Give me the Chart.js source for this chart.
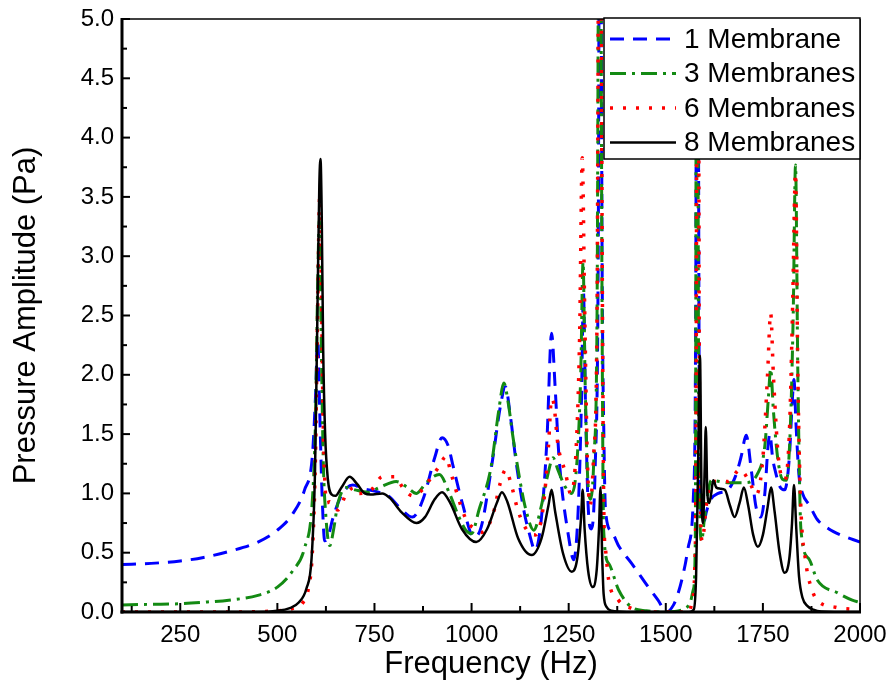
<!DOCTYPE html>
<html>
<head>
<meta charset="utf-8">
<script src="https://cdn.jsdelivr.net/npm/chart.js@4.4.1/dist/chart.umd.min.js"></script>
<style>
  html, body { margin: 0; padding: 0; background: #fff; }
  #wrap { width: 890px; height: 698px; position: relative; }
</style>
</head>
<body>
<div id="wrap"><canvas id="cv"></canvas></div>
<script>
// ── data (Hz / Pa). 8 = peak running off the top of the plot
const freq1 = [100,175,250,310,375,450,500,540,570,590,598,604,609,615,622,632,642,660,680,694,720,750,770,789,815,848,875,905,924,940,951,976,1006,1025,1053,1075,1087,1100,1114,1135,1148,1164,1180,1194,1206,1215,1225,1250,1263,1275,1283,1288,1293,1300,1308,1318,1326,1331,1336,1341,1345,1360,1380,1412,1455,1480,1502,1520,1532,1550,1558,1571,1577,1581,1586,1592,1597,1605,1614,1635,1660,1680,1694,1707,1720,1732,1745,1755,1763,1768,1775,1781,1795,1806,1818,1826,1830,1835,1843,1852,1870,1890,1920,1950,2000];
const amp1  = [0.40,0.41,0.43,0.46,0.51,0.59,0.69,0.83,1.03,1.31,1.8,2.3,1.7,1.0,0.6,0.65,0.78,0.95,1.05,1.07,1.04,1.02,1.0,0.97,0.88,0.8,0.95,1.3,1.47,1.4,1.25,0.92,0.63,0.72,1.26,1.75,1.9,1.65,1.28,0.85,0.67,0.52,0.8,1.45,2.35,1.9,1.31,0.63,0.44,0.9,1.8,2.7,1.8,0.9,0.7,1.2,3.0,8,3.0,1.4,0.85,0.68,0.55,0.41,0.21,0.1,0.0,0.06,0.16,0.4,0.55,0.97,2.5,8,2.0,0.8,0.75,0.85,0.94,1.0,1.03,1.15,1.31,1.49,1.2,0.89,0.8,1.0,1.39,1.5,1.3,1.2,1.05,1.03,1.3,1.8,1.96,1.6,1.15,1.0,0.9,0.78,0.7,0.65,0.59];

const freq3 = [100,175,250,320,375,450,500,540,570,590,598,604,608,612,618,625,635,645,656,678,700,733,763,806,835,858,883,917,943,965,985,1000,1019,1050,1070,1083,1095,1105,1125,1140,1160,1180,1195,1210,1222,1242,1258,1272,1281,1287,1292,1298,1306,1315,1323,1330,1336,1340,1353,1378,1412,1450,1500,1550,1563,1571,1576,1580,1585,1592,1600,1617,1660,1703,1737,1755,1764,1770,1777,1788,1800,1810,1820,1828,1834,1840,1848,1868,1890,1943,1980,2000];
const amp3  = [0.06,0.065,0.07,0.085,0.1,0.14,0.21,0.35,0.54,0.94,1.6,2.8,3.3,2.5,1.3,0.8,0.56,0.7,0.92,1.05,1.03,1.01,1.05,1.1,1.05,1.0,1.09,1.16,1.0,0.82,0.69,0.66,0.86,1.22,1.7,1.93,1.75,1.51,1.1,0.86,0.69,0.9,1.14,1.3,1.2,1.05,1.0,1.3,2.0,2.95,2.0,1.2,0.95,1.3,2.5,8,2.5,0.69,0.41,0.19,0.04,0.01,0,0.03,0.08,0.19,0.6,8,1.5,0.6,0.8,1.11,1.09,1.09,1.17,1.4,1.8,2.05,1.7,1.3,1.12,1.11,1.5,2.5,3.77,2.0,0.69,0.45,0.27,0.16,0.1,0.08];

const freq6 = [100,400,470,500,540,566,580,590,598,604,609,613,618,623,628,635,645,656,678,700,711,742,770,801,827,848,870,891,915,934,947,973,989,1010,1024,1053,1075,1088,1100,1120,1145,1165,1185,1198,1206,1212,1222,1242,1255,1268,1278,1285,1291,1298,1305,1314,1323,1330,1337,1341,1345,1353,1378,1412,1450,1560,1568,1575,1578,1582,1587,1594,1604,1620,1660,1691,1715,1733,1750,1762,1770,1777,1790,1806,1818,1826,1834,1840,1847,1861,1875,1890,1937,2000];
const amp6  = [0,0,0.005,0.01,0.03,0.08,0.2,0.5,1.3,2.6,3.5,2.8,1.6,1.05,0.92,0.93,0.88,0.86,1.0,1.05,1.0,1.03,1.14,1.14,1.03,0.98,1.02,1.11,1.22,1.31,1.17,0.89,0.76,0.7,0.67,0.8,1.1,1.2,1.1,0.85,0.68,0.65,0.9,1.4,1.8,1.75,1.42,1.17,1.0,1.3,2.3,3.83,2.6,1.3,0.9,1.3,2.5,8,2.5,0.75,0.52,0.27,0.1,0.03,0,0,0.1,0.4,1.5,8,1.5,0.6,0.89,1.1,1.1,1.2,1.1,0.99,1.3,2.0,2.52,2.0,1.3,1.11,1.5,2.5,3.7,2.0,0.95,0.41,0.2,0.1,0.04,0.02];

const freq8 = [100,300,450,500,530,555,575,588,597,603,608,611,614,618,623,630,640,650,665,686,705,725,740,770,790,820,858,880,905,924,945,975,1012,1040,1065,1078,1092,1120,1155,1180,1198,1206,1215,1235,1258,1272,1282,1286,1291,1300,1312,1322,1328,1332,1336,1340,1348,1360,1400,1560,1572,1578,1583,1588,1592,1596,1600,1603,1607,1612,1617,1622,1630,1640,1652,1665,1677,1690,1701,1712,1725,1737,1750,1762,1771,1780,1793,1806,1818,1825,1830,1836,1843,1852,1865,1880,1900,2000];
const amp8  = [0,0,0,0.01,0.03,0.08,0.2,0.45,1.2,2.5,3.6,3.82,3.4,2.2,1.5,1.12,0.99,0.98,1.05,1.14,1.08,1.0,0.99,1.0,0.96,0.84,0.75,0.8,0.95,1.01,0.92,0.7,0.59,0.7,0.92,1.01,0.93,0.62,0.48,0.62,0.9,1.03,0.85,0.5,0.34,0.45,0.8,1.03,0.7,0.35,0.21,0.35,0.7,1.05,0.5,0.15,0.04,0.01,0,0,0.02,0.3,1.2,2.16,1.0,0.75,1.2,1.56,1.0,0.92,1.0,1.11,1.05,1.04,1.03,0.9,0.8,0.92,1.05,0.9,0.65,0.55,0.65,0.88,1.05,0.85,0.5,0.33,0.45,0.75,1.07,0.7,0.3,0.12,0.05,0.02,0.005,0];

const seriesNames = ['1 Membrane', '3 Membranes', '6 Membranes', '8 Membranes'];
const xMajor = [250, 500, 750, 1000, 1250, 1500, 1750, 2000];
const xMinor = [125, 375, 625, 875, 1125, 1375, 1625, 1875];
const yMajor = [0, 0.5, 1, 1.5, 2, 2.5, 3, 3.5, 4, 4.5, 5];
const yMinor = [0.25, 0.75, 1.25, 1.75, 2.25, 2.75, 3.25, 3.75, 4.25, 4.75];

const FONT = "'Liberation Sans', Arial, sans-serif";
const pts = (fx, fy) => fx.map((f, i) => ({ x: f, y: fy[i] }));

// frame + inward ticks
const framePlugin = {
  id: 'frame',
  afterDatasetsDraw(chart) {
    const { ctx, chartArea: a, scales: { x, y } } = chart;
    const seg = (x1, y1, x2, y2) => { ctx.beginPath(); ctx.moveTo(x1, y1); ctx.lineTo(x2, y2); ctx.stroke(); };
    ctx.save();
    ctx.strokeStyle = '#000';
    ctx.lineWidth = 2;
    xMajor.forEach(v => { const p = x.getPixelForValue(v); seg(p, a.bottom, p, a.bottom - 9); });
    xMinor.forEach(v => { const p = x.getPixelForValue(v); seg(p, a.bottom, p, a.bottom - 6); });
    yMajor.forEach(v => { const p = y.getPixelForValue(v); seg(a.left, p, a.left + 8, p); });
    yMinor.forEach(v => { const p = y.getPixelForValue(v); seg(a.left, p, a.left + 5, p); });
    ctx.lineWidth = 1.5;
    seg(a.left, a.top, a.right, a.top);
    seg(a.right, a.top, a.right, a.bottom);
    ctx.lineWidth = 3;
    seg(a.left, a.top - 1, a.left, a.bottom + 1.5);
    seg(a.left - 1.5, a.bottom, a.right + 1, a.bottom);
    ctx.restore();
  }
};

// boxed legend in the top-right corner
const legendPlugin = {
  id: 'boxLegend',
  afterDraw(chart) {
    const { ctx, chartArea: a } = chart;
    const w = 256, h = 141, left = a.right - w, top = a.top - 1;
    ctx.save();
    ctx.fillStyle = '#fff';
    ctx.fillRect(left, top, w, h);
    ctx.strokeStyle = '#000';
    ctx.lineWidth = 1.5;
    ctx.strokeRect(left, top, w, h);
    chart.data.datasets.forEach((ds, i) => {
      const yy = top + 21 + i * 34.5;
      ctx.strokeStyle = ds.borderColor;
      ctx.lineWidth = ds.borderWidth;
      ctx.setLineDash(ds.borderDash || []);
      ctx.beginPath(); ctx.moveTo(left + 6, yy); ctx.lineTo(left + 72, yy); ctx.stroke();
      ctx.setLineDash([]);
      ctx.fillStyle = '#000';
      ctx.font = '28px ' + FONT;
      ctx.textBaseline = 'middle';
      ctx.fillText(ds.label, left + 80, yy + 1);
    });
    ctx.restore();
  }
};

const base = { pointRadius: 0, fill: false, cubicInterpolationMode: 'monotone' };

new Chart(document.getElementById('cv'), {
  type: 'line',
  data: {
    datasets: [
      { ...base, label: seriesNames[0], data: pts(freq1, amp1), borderColor: '#0000ff', borderWidth: 3, borderDash: [14, 9], order: 3 },
      { ...base, label: seriesNames[1], data: pts(freq3, amp3), borderColor: '#138a13', borderWidth: 3, borderDash: [16, 6, 3, 6], order: 2 },
      { ...base, label: seriesNames[2], data: pts(freq6, amp6), borderColor: '#ff0000', borderWidth: 3.5, borderDash: [3, 10], order: 1 },
      { ...base, label: seriesNames[3], data: pts(freq8, amp8), borderColor: '#000000', borderWidth: 2.5, order: 0 }
    ]
  },
  options: {
    responsive: true,
    maintainAspectRatio: false,
    animation: false,
    layout: { padding: { top: 19, right: 30, bottom: 0, left: 0 } },
    plugins: { legend: { display: false }, tooltip: { enabled: false } },
    scales: {
      x: {
        type: 'linear', min: 100, max: 2000,
        afterBuildTicks: s => { s.ticks = xMajor.map(v => ({ value: v })); },
        afterFit: s => { s.height = 86; s.paddingRight = 0; s.paddingLeft = 0; },
        grid: { display: false, drawTicks: false },
        border: { display: false },
        ticks: { color: '#000', padding: 9, maxRotation: 0, callback: v => String(v), font: { family: FONT, size: 24 } },
        title: { display: true, text: 'Frequency (Hz)', color: '#000', padding: { top: 0, bottom: 15 }, font: { family: FONT, size: 31 } }
      },
      y: {
        min: 0, max: 5,
        afterBuildTicks: s => { s.ticks = yMajor.map(v => ({ value: v })); },
        afterFit: s => { s.width = 122; s.paddingTop = 0; s.paddingBottom = 0; },
        grid: { display: false, drawTicks: false },
        border: { display: false },
        ticks: { color: '#000', padding: 8, callback: v => v.toFixed(1), font: { family: FONT, size: 24 } },
        title: { display: true, text: 'Pressure Amplitude (Pa)', color: '#000', padding: { top: 8, bottom: 0 }, font: { family: FONT, size: 31 } }
      }
    }
  },
  plugins: [framePlugin, legendPlugin]
});
</script>
</body>
</html>
